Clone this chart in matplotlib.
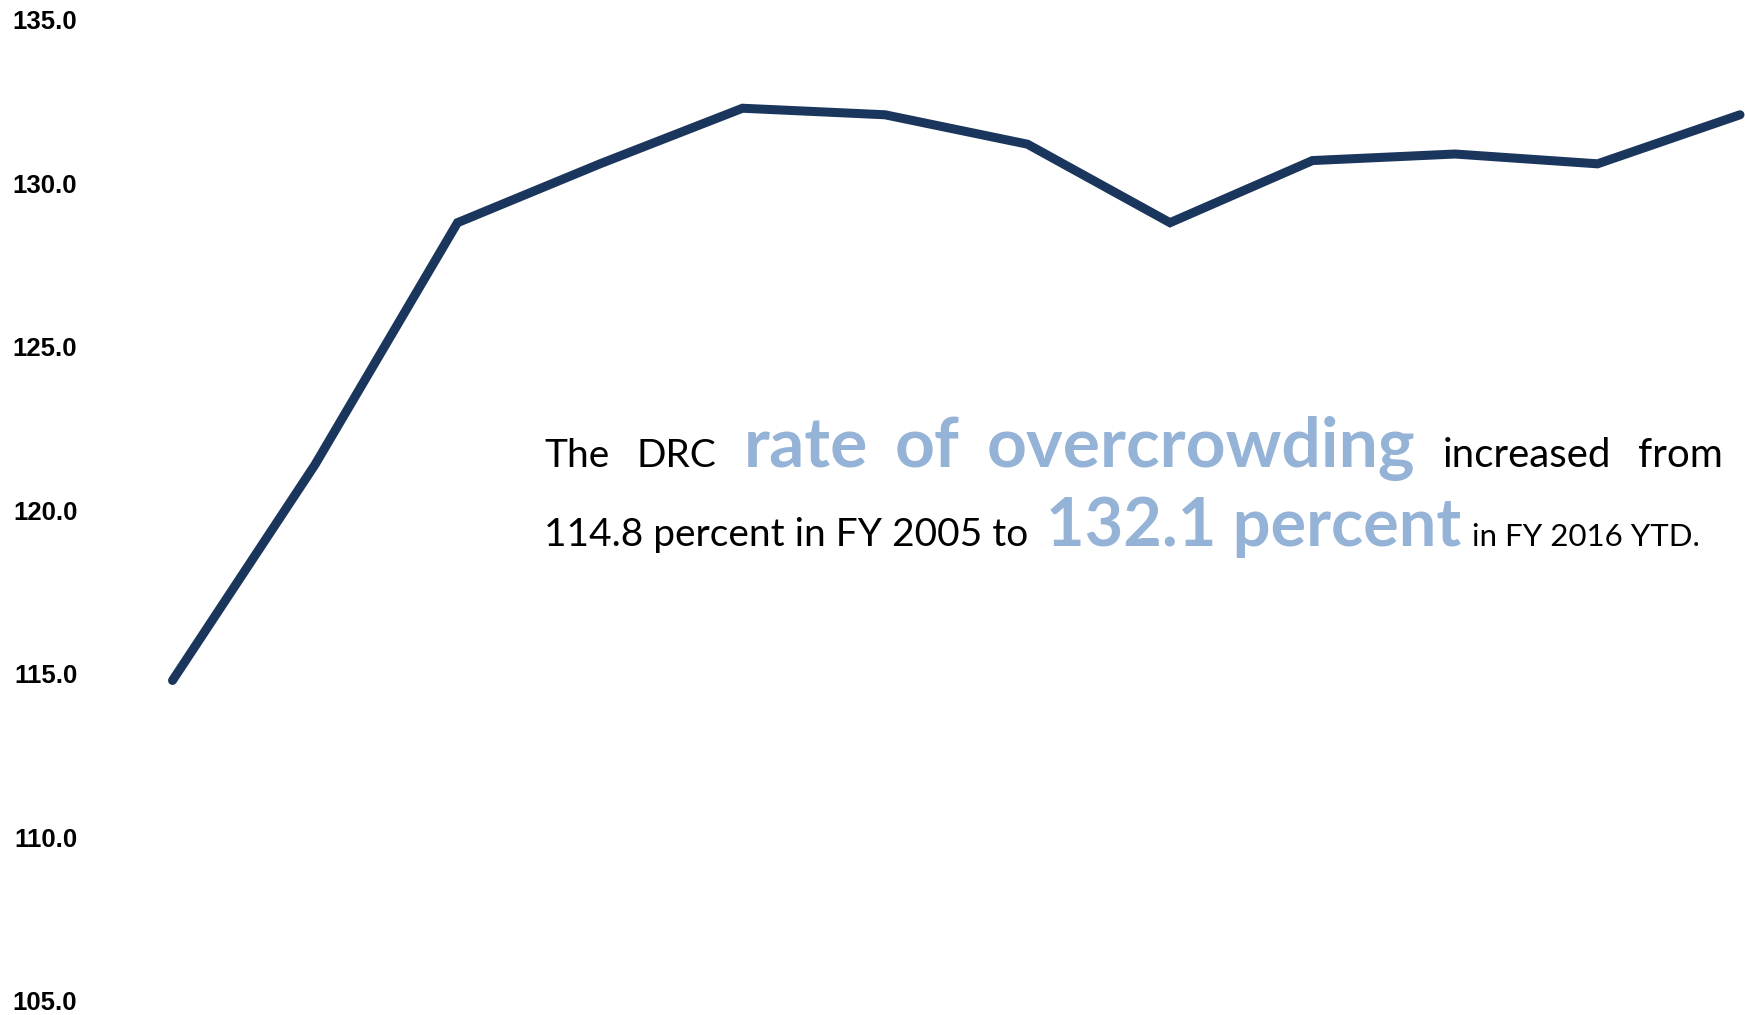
import matplotlib
matplotlib.use('Agg')
from matplotlib import pyplot as plt

# DRC rate of overcrowding (percent), FY 2005 .. FY 2016 YTD
years = ['FY 2005', 'FY 2006', 'FY 2007', 'FY 2008', 'FY 2009', 'FY 2010',
         'FY 2011', 'FY 2012', 'FY 2013', 'FY 2014', 'FY 2015', 'FY 2016 YTD']
rates = [114.8, 121.4, 128.8, 130.6, 132.3, 132.1, 131.2, 128.8, 130.7, 130.9, 130.6, 132.1]
yticks = [105.0, 110.0, 115.0, 120.0, 125.0, 130.0, 135.0]

W, H = 1745, 1015
fig = plt.figure(figsize=(W / 100, H / 100), dpi=100)
ax = fig.add_axes([87 / W, 0, 1 - 87 / W, 1])

x = list(range(len(years)))
ax.plot(x, rates, color='#1b365d', lw=6.5, solid_capstyle='round', solid_joinstyle='miter')

ax.set_xlim(-0.6, 11.035)
ax.set_ylim(104.57, 135.61)
ax.set_yticks(yticks)
ax.set_yticklabels(['%.1f' % t for t in yticks], fontfamily='Liberation Sans',
                   fontweight='bold', fontsize=18.5)
ax.set_xticks([])
ax.tick_params(axis='y', length=0, pad=7)
for s in ax.spines.values():
    s.set_visible(False)

# annotation text, drawn piece by piece
renderer = fig.canvas.get_renderer()
thin = dict(family='Lato', weight='normal', color='black')
big = dict(family='Lato', weight='bold', color='#95b3d7')

def put(px, baseline, s, size, style):
    t = fig.text(px / W, 1 - baseline / H, s, fontsize=size, va='baseline', ha='left', **style)
    return t, t.get_window_extent(renderer).width

# line 1, justified between x0 and x1
x0, x1, base1 = 544, 1723, 467
words = [('The', 28, thin), ('DRC', 28, thin), ('rate', 50, big), ('of', 50, big),
         ('overcrowding', 50, big), ('increased', 29, thin), ('from', 29, thin)]
widths = []
for w, size, style in words:
    t, wd = put(0, base1, w, size, style)
    t.remove()
    widths.append(wd)
gap = (x1 - x0 - sum(widths)) / (len(words) - 1)
px = x0
for (w, size, style), wd in zip(words, widths):
    put(px, base1, w, size, style)
    px += wd + gap

# line 2
base2 = 546
put(544, base2, '114.8 percent in FY 2005 to', 28, thin)
put(1046, base2, '132.1 percent', 48, big)
put(1472, base2, 'in FY 2016 YTD.', 22.5, thin)

fig.savefig('out.png', dpi=100)
